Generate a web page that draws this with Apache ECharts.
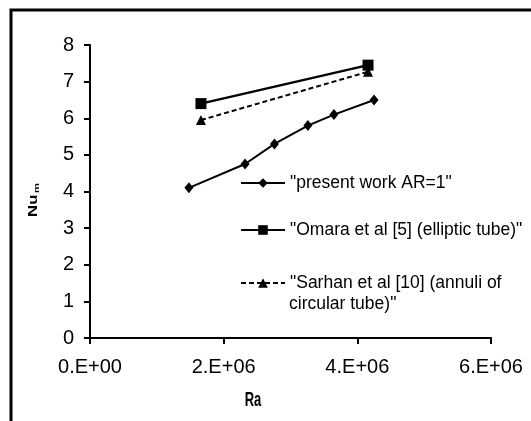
<!DOCTYPE html>
<html>
<head>
<meta charset="utf-8">
<script src="https://cdn.jsdelivr.net/npm/echarts@6/dist/echarts.min.js"></script>
<style>
html,body{margin:0;padding:0;background:#fff;}
#c{width:531px;height:421px;}
</style>
</head>
<body>
<div id="c"></div>
<script>
// ---- data ----
var presentRa = [1.48e6, 2.32e6, 2.76e6, 3.26e6, 3.65e6, 4.25e6];
var presentNu = [4.1, 4.75, 5.3, 5.8, 6.1, 6.5];
var omaraRa = [1.66e6, 4.16e6];
var omaraNu = [6.4, 7.45];
var sarhanRa = [1.66e6, 4.16e6];
var sarhanNu = [5.95, 7.27];
var xTickLabels = ['0.E+00', '2.E+06', '4.E+06', '6.E+06'];
var yTickLabels = ['0','1','2','3','4','5','6','7','8'];
var seriesNames = ['"present work AR=1"', '"Omara et al [5] (elliptic tube)"', '"Sarhan et al [10] (annuli of'];
var extraLegendLine = 'circular tube)"';
var xTitle = 'Ra';
var yTitleMain = 'Nu';
var yTitleSub = 'm';

function pairs(xs, ys){ return xs.map(function(x,i){ return [x, ys[i]]; }); }

var FONT = '"Liberation Sans", Arial, sans-serif';
var chart = echarts.init(document.getElementById('c'), null, {renderer:'canvas'});

function legendAt(name, top){
  return {
    data: [name], orient: 'vertical', left: 240, top: top,
    itemWidth: 44, itemHeight: 12, itemGap: 0, padding: 0,
    textStyle: {fontFamily: FONT, fontSize: 17.5, color: '#000', lineHeight: 22}
  };
}

chart.setOption({
  animation: false,
  backgroundColor: '#fff',
  grid: {left: 90, right: 40, top: 45, bottom: 83, containLabel: false},
  legend: [legendAt(seriesNames[0], 172), legendAt(seriesNames[1], 219), legendAt(seriesNames[2], 272)],
  xAxis: {
    type: 'value', min: 0, max: 6e6, interval: 2e6,
    axisLine: {lineStyle: {color: '#000', width: 2}},
    axisTick: {show: true, length: 6, lineStyle: {color: '#000', width: 2}},
    axisLabel: {fontFamily: FONT, fontSize: 20, color: '#000', margin: 19,
      formatter: function(v){ return xTickLabels[Math.round(v/2e6)]; }},
    splitLine: {show: false}
  },
  yAxis: {
    type: 'value', min: 0, max: 8, interval: 1,
    axisLine: {show: true, lineStyle: {color: '#000', width: 2}},
    axisTick: {show: true, length: 6, lineStyle: {color: '#000', width: 2}},
    axisLabel: {fontFamily: FONT, fontSize: 20, color: '#000', margin: 16,
      formatter: function(v){ return yTickLabels[Math.round(v)]; }},
    splitLine: {show: false}
  },
  series: [
    {name: seriesNames[0], type: 'line', data: pairs(presentRa, presentNu),
     symbol: 'diamond', symbolSize: [9, 11], showSymbol: true,
     lineStyle: {color: '#000', width: 2}, itemStyle: {color: '#000'}},
    {name: seriesNames[1], type: 'line', data: pairs(omaraRa, omaraNu),
     symbol: 'rect', symbolSize: 11,
     lineStyle: {color: '#000', width: 2.5}, itemStyle: {color: '#000'}},
    {name: seriesNames[2], type: 'line', data: pairs(sarhanRa, sarhanNu),
     symbol: 'triangle', symbolSize: 10,
     lineStyle: {color: '#000', width: 2, type: [5, 3]}, itemStyle: {color: '#000'}}
  ],
  graphic: [
    {type: 'rect', shape: {x: 11, y: 10, width: 540, height: 440}, style: {fill: 'none', stroke: '#000', lineWidth: 3}, silent: true},
    {type: 'text', left: 289, top: 295, style: {text: extraLegendLine, font: '17.5px ' + FONT, fill: '#000'}},
    {type: 'text', x: 253, y: 400, scaleX: 1, scaleY: 1.6,
     style: {text: xTitle, font: 'bold 13px ' + FONT, fill: '#000', align: 'center', verticalAlign: 'middle'}},
    {type: 'text', x: 34, y: 200, rotation: Math.PI / 2, scaleX: 1.4, scaleY: 1,
     style: {text: '{a|' + yTitleMain + '}{b|' + yTitleSub + '}', align: 'center', verticalAlign: 'middle',
       rich: {
         a: {font: 'bold 12px ' + FONT, fill: '#000'},
         b: {font: 'bold 8px ' + FONT, fill: '#000', padding: [6, 0, 0, 1]}
       }}}
  ]
});
</script>
</body>
</html>
